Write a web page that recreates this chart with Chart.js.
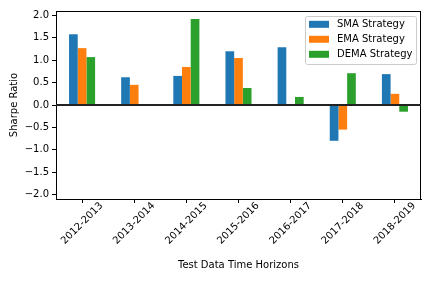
<!DOCTYPE html>
<html>
<head>
<meta charset="utf-8">
<script src="https://cdn.jsdelivr.net/npm/chart.js@4/dist/chart.umd.min.js"></script>
<style>
  html, body { margin: 0; padding: 0; background: #fff; }
  canvas { display: block; }
</style>
</head>
<body>
<canvas id="sharpeChart" width="432" height="288"></canvas>
<script>
// Test periods and Sharpe ratios per strategy
const periods = ['2012-2013', '2013-2014', '2014-2015', '2015-2016', '2016-2017', '2017-2018', '2018-2019'];
const smaValues  = [1.58, 0.62, 0.65, 1.20, 1.29, -0.80, 0.69];
const emaValues  = [1.27, 0.45, 0.85, 1.05, 0.00, -0.55, 0.25];
const demaValues = [1.07, 0.01, 1.92, 0.38, 0.18, 0.71, -0.15];
const yTicks = [-2.0, -1.5, -1.0, -0.5, 0.0, 0.5, 1.0, 1.5, 2.0];

const FONT = "'DejaVu Sans', sans-serif";

// top/right spines, zero line, rotated x labels
const framePlugin = {
    id: 'frame',
    afterDatasetsDraw(chart) {
        const ctx = chart.ctx;
        const area = chart.chartArea;
        const y0 = chart.scales.y.getPixelForValue(0);
        ctx.save();
        ctx.strokeStyle = '#000';
        ctx.lineWidth = 1;
        ctx.strokeRect(area.left + 0.5, area.top + 0.5, area.right - area.left - 1, area.bottom - area.top);
        ctx.strokeStyle = '#222';
        ctx.lineWidth = 2;
        ctx.beginPath();
        ctx.moveTo(area.left, y0);
        ctx.lineTo(area.right, y0);
        ctx.stroke();
        ctx.restore();
    },
    afterDraw(chart) {
        const ctx = chart.ctx;
        const xScale = chart.scales.x;
        ctx.save();
        ctx.fillStyle = '#000';
        ctx.font = '10px ' + FONT;
        ctx.textAlign = 'center';
        ctx.textBaseline = 'middle';
        periods.forEach((label, i) => {
            const x = xScale.getPixelForTick(i);
            ctx.save();
            ctx.translate(x, xScale.top + 24.5);
            ctx.rotate(-Math.PI / 4);
            ctx.fillText(label, 0, 0);
            ctx.restore();
        });
        ctx.restore();
    }
};

// matplotlib-like legend in the upper right
const legendPlugin = {
    id: 'boxLegend',
    afterDraw(chart) {
        const ctx = chart.ctx;
        const bx = 305.5, by = 16.5, bw = 111, bh = 48;
        ctx.save();
        ctx.fillStyle = 'rgba(255,255,255,0.8)';
        ctx.strokeStyle = '#cccccc';
        ctx.lineWidth = 1;
        ctx.beginPath();
        ctx.roundRect(bx, by, bw, bh, 2);
        ctx.fill();
        ctx.stroke();
        ctx.font = '10px ' + FONT;
        ctx.textBaseline = 'middle';
        ctx.textAlign = 'left';
        chart.data.datasets.forEach((ds, i) => {
            const cy = 24.3 + i * 15;
            ctx.fillStyle = ds.backgroundColor;
            ctx.fillRect(309, cy - 3.5, 20, 7);
            ctx.fillStyle = '#000';
            ctx.fillText(ds.label, 337, cy);
        });
        ctx.restore();
    }
};

const ctx = document.getElementById('sharpeChart').getContext('2d');
new Chart(ctx, {
    type: 'bar',
    data: {
        labels: periods,
        datasets: [
            { label: 'SMA Strategy', data: smaValues, backgroundColor: '#1f77b4' },
            { label: 'EMA Strategy', data: emaValues, backgroundColor: '#ff7f0e' },
            { label: 'DEMA Strategy', data: demaValues, backgroundColor: '#2ca02c' }
        ]
    },
    options: {
        responsive: false,
        animation: false,
        devicePixelRatio: 1,
        categoryPercentage: 0.5,
        barPercentage: 1.0,
        layout: { padding: { top: 11, right: 11, left: 0, bottom: 0 } },
        plugins: {
            legend: { display: false },
            tooltip: { enabled: false }
        },
        scales: {
            x: {
                offset: true,
                grid: { display: true, offset: false, drawOnChartArea: false, drawTicks: true, tickLength: 4, color: '#000' },
                border: { display: true, color: '#000', width: 1 },
                ticks: { display: false },
                title: {
                    display: true,
                    text: 'Test Data Time Horizons',
                    color: '#000',
                    font: { family: FONT, size: 10 },
                    padding: { top: 0, bottom: 17 }
                },
                afterFit(scale) { scale.height = 89; }
            },
            y: {
                min: -2.1,
                max: 2.1,
                grid: { display: true, drawOnChartArea: false, drawTicks: true, tickLength: 4, color: '#000' },
                border: { display: true, color: '#000', width: 1 },
                ticks: {
                    color: '#000',
                    padding: 3,
                    font: { family: FONT, size: 10 },
                    callback: v => v.toFixed(1).replace('-', '\u2212')
                },
                afterBuildTicks(scale) {
                    scale.ticks = yTicks.map(v => ({ value: v }));
                },
                title: {
                    display: true,
                    text: 'Sharpe Ratio',
                    color: '#000',
                    font: { family: FONT, size: 10 },
                    padding: { top: 8, bottom: 0 }
                },
                afterFit(scale) { scale.width = 56; }
            }
        }
    },
    plugins: [framePlugin, legendPlugin]
});
</script>
</body>
</html>
